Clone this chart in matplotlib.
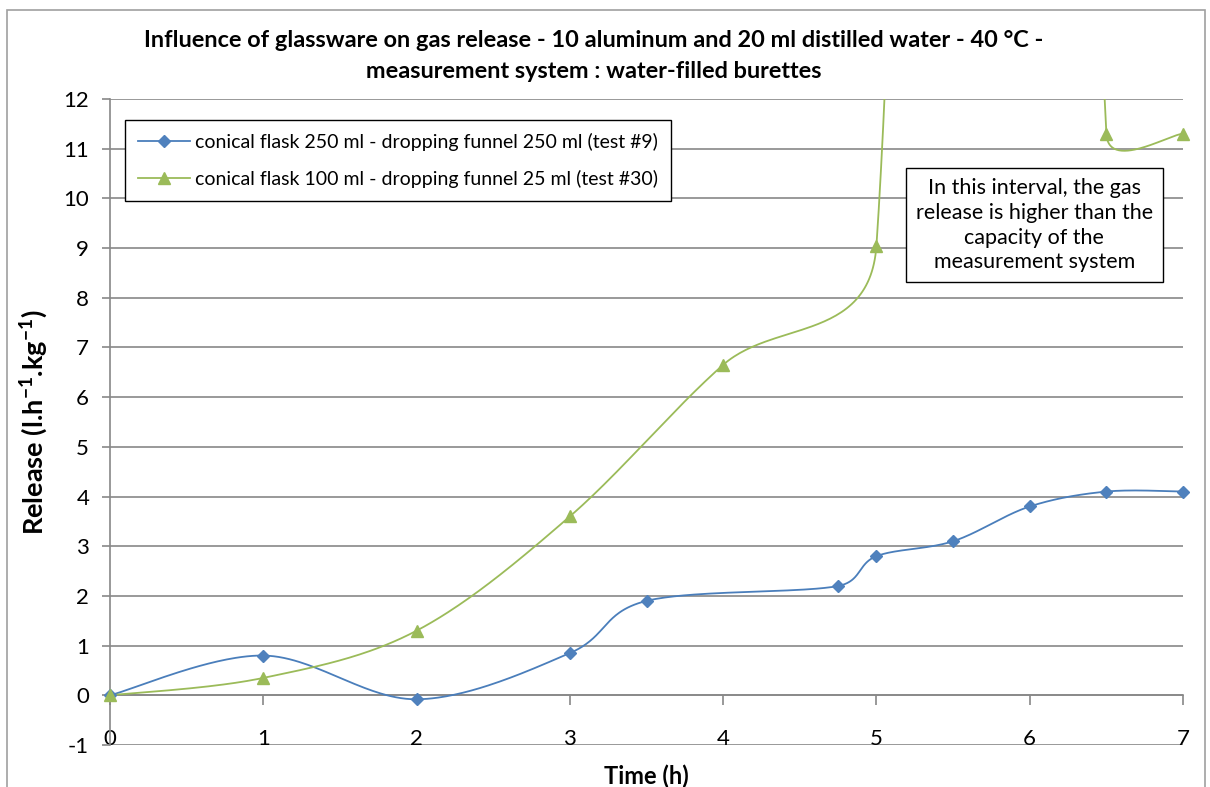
import numpy as np
import matplotlib
matplotlib.use("Agg")
import matplotlib.pyplot as plt
from matplotlib.lines import Line2D
from matplotlib.patches import Rectangle

plt.rcParams['font.family'] = ['Lato', 'DejaVu Sans']
plt.rcParams['mathtext.fontset'] = 'custom'
plt.rcParams['mathtext.rm'] = 'Lato'
plt.rcParams['mathtext.bf'] = 'Lato:bold'
plt.rcParams['axes.unicode_minus'] = False

# data
t_blue = [0, 1, 2, 3, 3.5, 4.75, 5, 5.5, 6, 6.5, 7]
rel_blue = [0, 0.8, -0.08, 0.85, 1.9, 2.2, 2.8, 3.1, 3.8, 4.1, 4.1]
# green: point at 5.75 is off the scale (estimated), only its curve is visible
t_green = [0, 1, 2, 3, 4, 5, 5.75, 6.5, 7]
rel_green = [0, 0.35, 1.3, 3.6, 6.65, 9.05, 86, 11.3, 11.3]
green_hidden = [6]  # index of the point not shown with a marker

label_blue = "conical flask 250 ml - dropping funnel 250 ml (test #9)"
label_green = "conical flask 100 ml - dropping funnel 25 ml (test #30)"
title = ("Influence of glassware on gas release - 10 aluminum and 20 ml distilled water - 40 °C -\n"
         "measurement system : water-filled burettes")
note = "In this interval, the gas\nrelease is higher than the\ncapacity of the\nmeasurement system"

blue = '#4A7EBB'
blue_m = '#4F81BD'
green = '#9BBB59'
grid_c = '#888888'

fig = plt.figure(figsize=(12.1, 7.87), dpi=100)
ax = fig.add_axes([110/1210, 1-745/787, (1183-110)/1210, (745-99)/787])
ax.set_xlim(0, 7)
ax.set_ylim(-1, 12)


def smooth(xs, ys, n=60):
    # excel-like smoothed line, built in pixel space
    P = ax.transData.transform(np.column_stack([xs, ys]))
    m = len(P)
    T = []
    for i in range(m):
        a = P[max(i-1, 0)]
        b = P[min(i+1, m-1)]
        T.append(b - a)
    out = [P[0]]
    tt = np.linspace(0, 1, n)[1:, None]
    for i in range(m-1):
        L = np.hypot(*(P[i+1] - P[i]))
        t0, t1 = T[i], T[i+1]
        l0, l1 = np.hypot(*t0), np.hypot(*t1)
        c1 = P[i] + t0 / l0 * min(l0/6, 0.5*L)
        c2 = P[i+1] - t1 / l1 * min(l1/6, 0.5*L)
        seg = ((1-tt)**3 * P[i] + 3*(1-tt)**2*tt * c1
               + 3*(1-tt)*tt**2 * c2 + tt**3 * P[i+1])
        out.extend(seg)
    out = ax.transData.inverted().transform(np.array(out))
    return out[:, 0], out[:, 1]


# gridlines
for y in range(-1, 13):
    ax.axhline(y, color=grid_c, lw=1.2, zorder=0)

sx, sy = smooth(t_blue, rel_blue)
ax.plot(sx, sy, color=blue, lw=1.3, zorder=3)
ax.plot(t_blue, rel_blue, 'D', color=blue_m, ms=6.5, zorder=4, clip_on=False)

gx, gy = smooth(t_green, rel_green)
ax.plot(gx, gy, color=green, lw=1.3, zorder=3)
mx = [v for i, v in enumerate(t_green) if i not in green_hidden]
my = [v for i, v in enumerate(rel_green) if i not in green_hidden]
ax.plot(mx, my, '^', color=green, ms=8, zorder=4, clip_on=False)

# axes styling
for s in ['top', 'right']:
    ax.spines[s].set_visible(False)
ax.spines['bottom'].set_position(('data', 0))
ax.spines['bottom'].set_color(grid_c)
ax.spines['left'].set_color(grid_c)
ax.spines['left'].set_linewidth(1.2)
ax.spines['bottom'].set_linewidth(1.2)
ax.set_xticks(range(0, 8))
ax.set_yticks(range(-1, 13))
ax.tick_params(axis='x', direction='out', length=7, width=1.2, color=grid_c,
               pad=17, labelsize=16)
ax.tick_params(axis='y', direction='out', length=6, width=1.2, color=grid_c,
               pad=9, labelsize=16)

ax.set_ylabel("Release (l.h$^{\\mathbf{-1}}$.kg$^{\\mathbf{-1}}$)", fontsize=19.5,
              fontweight='bold', labelpad=10)
fig.text(646/1210, 1-765/787, "Time (h)", fontsize=17, fontweight='bold',
         ha='center', va='top')
fig.text(594/1210, 1-56/787, title, fontsize=16.9, fontweight='bold',
         ha='center', va='center', linespacing=1.55)

handles = [Line2D([], [], color=blue, marker='D', ms=6.5, mfc=blue_m, mec=blue_m, lw=1.3),
           Line2D([], [], color=green, marker='^', ms=8, lw=1.3)]
leg = ax.legend(handles, [label_blue, label_green], loc='upper left',
                bbox_to_anchor=(15/1073, 1-21/646), fontsize=14, frameon=True,
                fancybox=False, edgecolor='black', handlelength=2.7,
                labelspacing=1.0, borderpad=0.65, handletextpad=0.25,
                borderaxespad=0)
leg.get_frame().set_linewidth(1.0)
leg.get_frame().set_alpha(1)

ax.text(6.03, 9.46, note, fontsize=15.5, ha='center', va='center',
        linespacing=1.3, zorder=5,
        bbox=dict(boxstyle='square,pad=0.45', fc='white', ec='black', lw=1.0))

# outer chart border
fig.add_artist(Rectangle((7/1210, -0.01), 1198/1210, 1-10/787+0.01,
                         transform=fig.transFigure, fill=False,
                         ec='#A0A0A0', lw=1.2))

fig.savefig("out.png", dpi=100)
